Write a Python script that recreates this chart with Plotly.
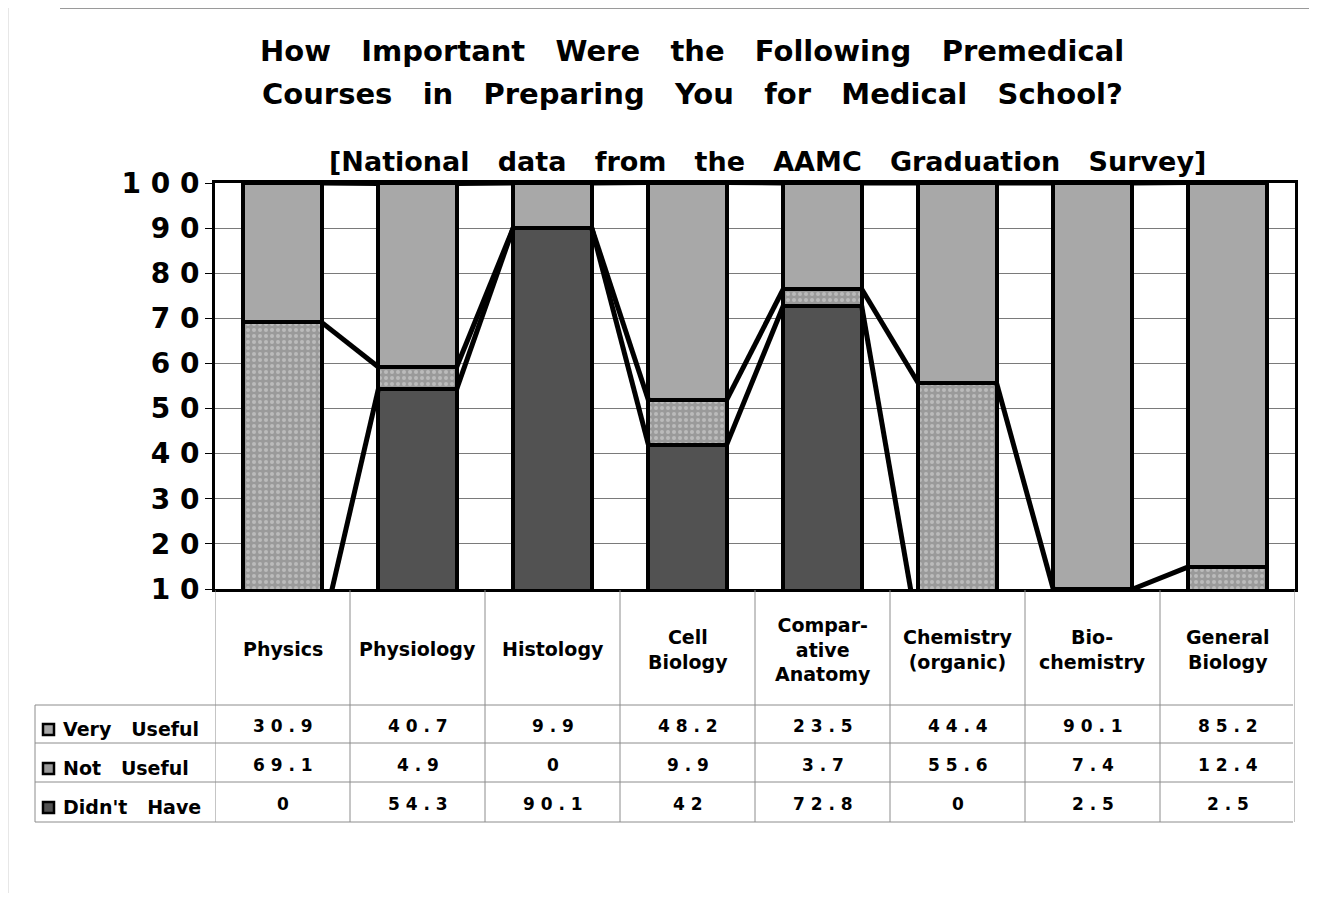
import plotly.graph_objects as go

# ---------------- data ----------------
categories = ["Physics", "Physiology", "Histology", "Cell<br>Biology",
              "Compar-<br>ative<br>Anatomy", "Chemistry<br>(organic)",
              "Bio-<br>chemistry", "General<br>Biology"]
didnt_have = [0, 54.3, 90.1, 42, 72.8, 0, 2.5, 2.5]
not_useful = [69.1, 4.9, 0, 9.9, 3.7, 55.6, 7.4, 12.4]
very_useful = [30.9, 40.7, 9.9, 48.2, 23.5, 44.4, 90.1, 85.2]
value_labels = {
    "Very useful": ["30.9", "40.7", "9.9", "48.2", "23.5", "44.4", "90.1", "85.2"],
    "Not useful": ["69.1", "4.9", "0", "9.9", "3.7", "55.6", "7.4", "12.4"],
    "Didn't have": ["0", "54.3", "90.1", "42", "72.8", "0", "2.5", "2.5"],
}
series_names = ["Very   Useful", "Not   Useful", "Didn't   Have"]
y_ticks = [10, 20, 30, 40, 50, 60, 70, 80, 90, 100]

# ---------------- layout helpers ----------------
W, H = 1317, 901
OFF = 8  # page body margin in the browser
def px(x): return (x - OFF) / W
def py(y): return (H - (y - OFF)) / H
def spaced(s): return " ".join(list(s))

FONT = "DejaVu Sans, Verdana, sans-serif"
C_VERY = "#a8a8a8"
C_NOT = "#9a9a9a"
C_DIDNT = "#525252"
BAR_W = 0.58

xs = list(range(len(categories)))
fig = go.Figure()

fig.add_trace(go.Bar(x=xs, y=didnt_have, width=BAR_W, name="Didn't Have",
                     marker=dict(color=C_DIDNT, line=dict(color="black", width=4))))
fig.add_trace(go.Bar(x=xs, y=not_useful, width=BAR_W, name="Not Useful",
                     marker=dict(color=C_NOT, line=dict(color="black", width=4),
                                 pattern=dict(shape=".", bgcolor=C_NOT, fgcolor="#dcdcdc",
                                              size=6, solidity=0.35))))
fig.add_trace(go.Bar(x=xs, y=very_useful, width=BAR_W, name="Very Useful",
                     marker=dict(color=C_VERY, line=dict(color="black", width=4))))

# series lines connecting the tops of each stacked segment
cum1 = didnt_have
cum2 = [a + b for a, b in zip(didnt_have, not_useful)]
cum3 = [a + b + c for a, b, c in zip(didnt_have, not_useful, very_useful)]
for cum in (cum1, cum2, cum3):
    lx, ly = [], []
    for i in range(len(xs) - 1):
        lx += [xs[i] + BAR_W / 2, xs[i + 1] - BAR_W / 2, None]
        ly += [cum[i], cum[i + 1], None]
    fig.add_trace(go.Scatter(x=lx, y=ly, mode="lines",
                             line=dict(color="black", width=5), hoverinfo="skip"))

# ---------------- axes ----------------
fig.update_layout(
    width=W, height=H, barmode="stack", showlegend=False,
    margin=dict(l=0, r=0, t=0, b=0, autoexpand=False),
    paper_bgcolor="white", plot_bgcolor="white",
    xaxis=dict(domain=[px(215), px(1295)], range=[-0.5, 7.5], showticklabels=False,
               showgrid=False, zeroline=False, showline=True, mirror=True,
               linecolor="black", linewidth=3, ticks="", automargin=False),
    yaxis=dict(domain=[py(589), py(183)], range=[10, 100], tickvals=y_ticks,
               ticktext=[spaced(str(v)) for v in y_ticks],
               tickfont=dict(family=FONT, size=28, color="black", weight="bold"),
               ticks="outside", ticklen=7, tickcolor="black", tickwidth=1,
               showgrid=True, gridcolor="#7a7a7a", gridwidth=1, zeroline=False,
               showline=True, mirror=True, linecolor="black", linewidth=3,
               automargin=False),
)

ann = []
def text_ann(x, y, text, size, xref="paper", xanchor="center"):
    return dict(x=x, y=y, xref=xref, yref="paper", showarrow=False, text=text,
                xanchor=xanchor, yanchor="middle", align="center",
                font=dict(family=FONT, size=size, color="black", weight="bold"))

# title
ann.append(text_ann(px(692), py(51), "How   Important   Were   the   Following   Premedical", 29))
ann.append(text_ann(px(692), py(94), "Courses   in   Preparing   You   for   Medical   School?", 29))
ann.append(text_ann(px(767), py(162), "[National   data   from   the   AAMC   Graduation   Survey]", 27))

# category labels
for i, c in enumerate(categories):
    ann.append(text_ann(i, py(649), c, 19, xref="x"))

# table values
row_y = [726, 765, 804]
for r, key in enumerate(value_labels):
    for i, v in enumerate(value_labels[key]):
        ann.append(text_ann(i, py(row_y[r]), spaced(v), 17, xref="x"))
    ann.append(text_ann(px(61), py(row_y[r] + 3), series_names[r], 19, xanchor="left"))
fig.update_layout(annotations=ann)

# ---------------- table grid & decorations ----------------
shapes = []
grid_col = "#8c8c8c"
for k in range(len(categories) + 1):
    shapes.append(dict(type="line", xref="x", yref="paper", x0=k - 0.5, x1=k - 0.5,
                       y0=py(822), y1=py(590), line=dict(color=grid_col, width=1)))
for yy in (705, 743, 782, 822):
    shapes.append(dict(type="line", xref="paper", yref="paper", x0=px(35), x1=px(1293),
                       y0=py(yy), y1=py(yy), line=dict(color=grid_col, width=1)))
shapes.append(dict(type="line", xref="paper", yref="paper", x0=px(35), x1=px(35),
                   y0=py(705), y1=py(822), line=dict(color=grid_col, width=1)))
# legend keys
key_fill = [C_VERY, C_NOT, C_DIDNT]
for r, yy in enumerate(row_y):
    shapes.append(dict(type="rect", xref="paper", yref="paper",
                       x0=px(43), x1=px(54), y0=py(yy + 9), y1=py(yy - 2),
                       fillcolor=key_fill[r], line=dict(color="black", width=2.5)))
# page frame from scan
shapes.append(dict(type="line", xref="paper", yref="paper", x0=px(60), x1=px(1310),
                   y0=py(8), y1=py(8), line=dict(color="#9a9a9a", width=2)))
shapes.append(dict(type="line", xref="paper", yref="paper", x0=px(8), x1=px(8),
                   y0=py(8), y1=py(893), line=dict(color="#d0d0d0", width=1)))
shapes.append(dict(type="line", xref="paper", yref="paper", x0=px(1311), x1=px(1311),
                   y0=py(8), y1=py(200), line=dict(color="#d0d0d0", width=1)))
fig.update_layout(shapes=shapes)

fig.write_html("out.html")
